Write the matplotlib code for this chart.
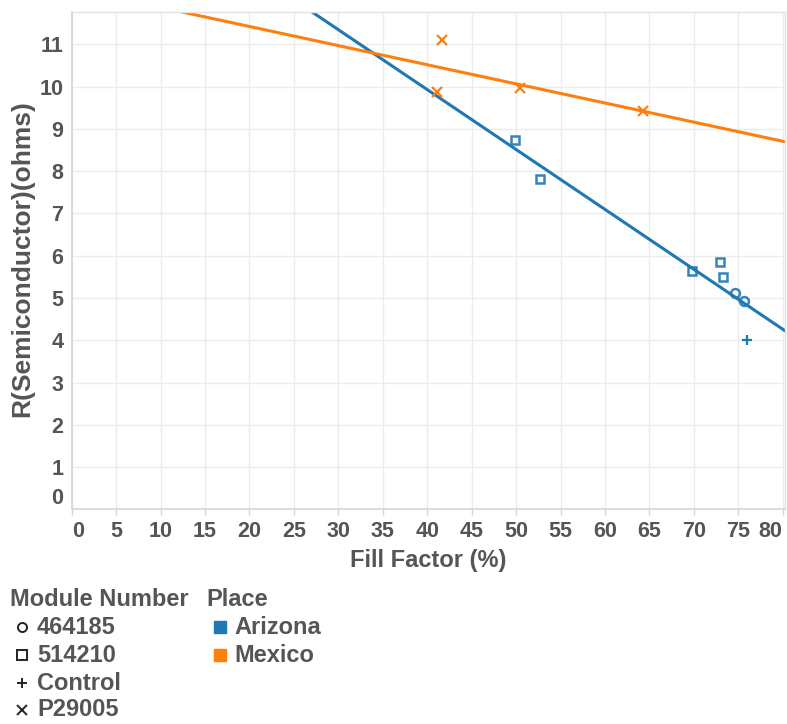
import numpy as np
import matplotlib
matplotlib.use("Agg")
import matplotlib.pyplot as plt
from matplotlib.lines import Line2D

plt.rcParams['font.family'] = ['Liberation Sans', 'DejaVu Sans']

# Measurements
fill_factor = [41.7, 41.1, 50.4, 64.3, 49.9, 52.7, 69.8, 73.0, 73.3, 74.6, 75.7, 76.0]
resistance = [11.10, 9.87, 9.98, 9.43, 8.73, 7.81, 5.63, 5.85, 5.50, 5.11, 4.93, 4.00]
module = ['P29005'] * 4 + ['514210'] * 5 + ['464185'] * 2 + ['Control']
place = ['Mexico'] * 4 + ['Arizona'] * 8

module_order = ['464185', '514210', 'Control', 'P29005']
place_order = ['Arizona', 'Mexico']
x_ticks = list(range(0, 85, 5))
y_ticks = list(range(0, 12))

colors = {'Arizona': '#1f77b4', 'Mexico': '#ff7f0e'}
markers = {'464185': 'o', '514210': 's', 'Control': '+', 'P29005': 'x'}
msize = {'464185': 6.4, '514210': 6.4, 'Control': 7, 'P29005': 7}
text_color = '#555555'

W, H = 787, 724
fig = plt.figure(figsize=(W / 100, H / 100), dpi=100)

def fx(px):
    return px / W

def fy(py):
    return 1 - py / H

ax_l, ax_r, ax_t, ax_b = 71.7, 785, 12.3, 509.3
ax = fig.add_axes([fx(ax_l), fy(ax_b), fx(ax_r) - fx(ax_l), fy(ax_t) - fy(ax_b)])

x_min, x_max = 0, 80.26
y_min, y_max = 0, 11.76
ax.set_xlim(x_min, x_max)
ax.set_ylim(y_min, y_max)

ff = np.array(fill_factor)
rs = np.array(resistance)

# Linear trend line per place
xs = np.array([x_min, x_max])
for p in place_order:
    m = np.array([q == p for q in place])
    slope, icpt = np.polyfit(ff[m], rs[m], 1)
    ax.plot(xs, slope * xs + icpt, color=colors[p], lw=2.2, zorder=2, clip_on=True)

# Points
for x, y, mod, p in zip(fill_factor, resistance, module, place):
    mk = markers[mod]
    if mk in ('o', 's'):
        ax.plot([x], [y], marker=mk, ms=msize[mod], mfc='none', mec=colors[p],
                mew=1.8, ls='none', zorder=3, alpha=0.9)
    else:
        ax.plot([x], [y], marker=mk, ms=msize[mod], color=colors[p],
                mew=1.6, ls='none', zorder=3)

# Grid and frame
for t in x_ticks:
    ax.axvline(t, color='#ececec', lw=1, zorder=0)
for t in y_ticks:
    ax.axhline(t, color='#ececec', lw=1, zorder=0)
for s in ['left', 'bottom']:
    ax.spines[s].set_color('#d4d4d4')
    ax.spines[s].set_linewidth(1.2)
for s in ['top', 'right']:
    ax.spines[s].set_color('#e2e2e2')
    ax.spines[s].set_linewidth(1.0)

ax.set_xticks(x_ticks)
ax.set_yticks(y_ticks)
ax.set_xticklabels([str(t) for t in x_ticks])
ax.set_yticklabels([str(t) for t in y_ticks])
ax.tick_params(axis='x', length=4, color='#d4d4d4', width=1, pad=4.5,
               labelsize=15.5, labelcolor=text_color)
ax.tick_params(axis='y', length=0, pad=6, labelsize=15.5, labelcolor=text_color)
for lab in ax.get_xticklabels() + ax.get_yticklabels():
    lab.set_fontweight('bold')
xl = ax.get_xticklabels()
xl[0].set_horizontalalignment('left')
xl[-1].set_horizontalalignment('right')
yl = ax.get_yticklabels()
yl[0].set_verticalalignment('bottom')

fig.text(fx((ax_l + ax_r) / 2), fy(560), 'Fill Factor (%)', fontsize=17,
         fontweight='bold', color=text_color, ha='center', va='center')
fig.text(fx(22), fy((ax_t + ax_b) / 2 - 2), 'R(Semiconductor)(ohms)', fontsize=19,
         fontweight='bold', color=text_color, ha='center', va='center', rotation=90)

# Legends
fig.text(fx(10), fy(599), 'Module Number', fontsize=17, fontweight='bold',
         color=text_color, va='center', ha='left')
item_y = [627, 655, 683, 710]
for mod, py in zip(module_order, item_y):
    mk = markers[mod]
    fig.add_artist(Line2D([fx(22)], [fy(py)], marker=mk, ms=6.5,
                          mfc='none', mec='#222222', color='#222222',
                          mew=1.4, ls='none', transform=fig.transFigure))
    fig.text(fx(37), fy(py), mod, fontsize=17, fontweight='bold',
             color=text_color, va='center', ha='left')

fig.text(fx(206), fy(599), 'Place', fontsize=17, fontweight='bold',
         color=text_color, va='center', ha='left')
for p, py in zip(place_order, [627, 655]):
    fig.add_artist(Line2D([fx(220)], [fy(py)], marker='s', ms=8, mfc=colors[p],
                          mec=colors[p], ls='none', transform=fig.transFigure))
    fig.text(fx(234), fy(py), p, fontsize=17, fontweight='bold',
             color=text_color, va='center', ha='left')

fig.savefig('out.png', dpi=100)
